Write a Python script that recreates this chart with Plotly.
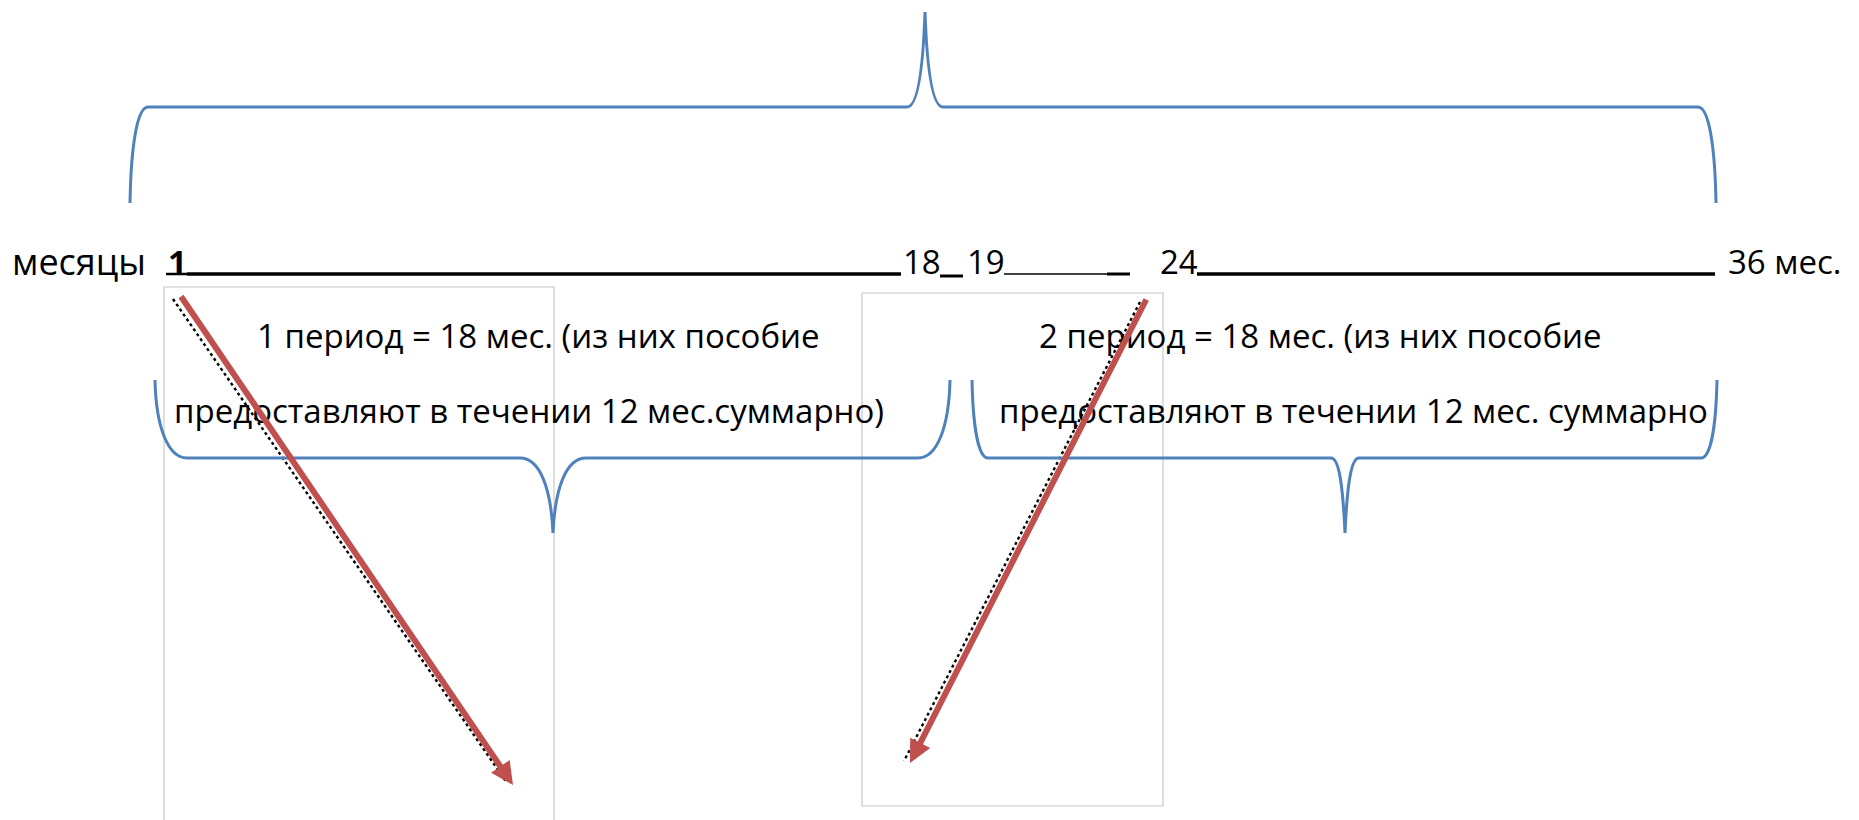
import plotly.graph_objects as go

W, H = 1859, 820
FONT = "Open Sans"
BLUE = "#4F81BD"
RED = "#C0504D"

# --- timeline labels (months) ---
month_labels = ["1", "18", "19", "24", "36 мес."]
month_label_x = [158, 893, 957, 1150, 1718]
month_bold = [True, False, False, False, False]
axis_title = "месяцы"
title_x = 2
timeline_y = 253

# underline segments of the month line
seg_x0 = [158, 179, 932, 996, 1099, 1189]
seg_x1 = [179, 893, 955, 1099, 1122, 1707]
seg_y = [266, 266, 268, 266, 266, 266]
seg_w = [2.5, 3.5, 3, 1.5, 3, 3.5]

# --- period texts ---
period_text = [
    "1 период = 18 мес. (из них пособие",
    "предоставляют в течении 12 мес.суммарно)",
    "2 период = 18 мес. (из них пособие",
    "предоставляют в течении 12 мес. суммарно",
]
period_x = [247, 164, 1029, 989]
period_y = [327, 402, 327, 402]

# --- braces: end x, tip x, end y, bar y, tip y, half-widths of tip, corner size ---
brace_x0 = [122, 147, 964]
brace_x1 = [1708, 942, 1709]
brace_tip = [917, 545, 1337]
brace_yend = [195, 372, 372]
brace_ybar = [99, 450, 450]
brace_ytip = [4, 525, 525]
brace_tiphalf = [18, 33, 14]
brace_corner = [18, 32, 16]

# --- boxes ---
box_x0 = [156, 854]
box_x1 = [546, 1155]
box_y0 = [279, 285]
box_y1 = [830, 798]

# --- arrows (tail -> head) ---
arrow_x0 = [172, 1139]
arrow_y0 = [287, 290]
arrow_x1 = [505, 902]
arrow_y1 = [777, 755]


def brace_path(x0, x1, xt, ye, yb, yt, th, c):
    s = 1 if yb > ye else -1  # direction from end to bar
    p = f"M {x0},{ye} C {x0+1},{ye + s*abs(yb-ye)*0.6} {x0+c*0.4},{yb} {x0+c},{yb} "
    p += f"L {xt-th},{yb} C {xt-th*0.4},{yb} {xt-2},{yb + (yt-yb)*0.4} {xt},{yt} "
    p += f"C {xt+2},{yb + (yt-yb)*0.4} {xt+th*0.4},{yb} {xt+th},{yb} "
    p += f"L {x1-c},{yb} C {x1-c*0.4},{yb} {x1-1},{ye + s*abs(yb-ye)*0.6} {x1},{ye}"
    return p


fig = go.Figure()

shapes = []
for i in range(len(box_x0)):
    shapes.append(dict(type="rect", xref="x", yref="y", x0=box_x0[i], x1=box_x1[i],
                       y0=box_y0[i], y1=box_y1[i], line=dict(color="#C8C8C8", width=1.2),
                       fillcolor="rgba(0,0,0,0)", layer="below"))
for i in range(len(brace_x0)):
    shapes.append(dict(type="path", xref="x", yref="y",
                       path=brace_path(brace_x0[i], brace_x1[i], brace_tip[i], brace_yend[i],
                                       brace_ybar[i], brace_ytip[i], brace_tiphalf[i], brace_corner[i]),
                       line=dict(color=BLUE, width=3)))
for i in range(len(seg_x0)):
    shapes.append(dict(type="line", xref="x", yref="y", x0=seg_x0[i], x1=seg_x1[i],
                       y0=seg_y[i], y1=seg_y[i], line=dict(color="black", width=seg_w[i])))

# dotted black shadow along arrows
for i in range(len(arrow_x0)):
    fig.add_trace(go.Scatter(x=[arrow_x0[i] - 7, arrow_x1[i] - 6], y=[arrow_y0[i] + 4, arrow_y1[i] - 2],
                             mode="lines", line=dict(color="black", width=2.4, dash="dot"),
                             hoverinfo="skip", showlegend=False))

annotations = []
annotations.append(dict(x=title_x, y=timeline_y, text=axis_title, showarrow=False, xanchor="left",
                        yanchor="middle", font=dict(family=FONT, size=36, color="black")))
for lab, x, b in zip(month_labels, month_label_x, month_bold):
    annotations.append(dict(x=x, y=timeline_y, text=f"<b>{lab}</b>" if b else lab, showarrow=False,
                            xanchor="left", yanchor="middle",
                            font=dict(family=FONT, size=33, color="black")))
for t, x, y in zip(period_text, period_x, period_y):
    annotations.append(dict(x=x, y=y, text=t, showarrow=False, xanchor="left", yanchor="middle",
                            font=dict(family=FONT, size=33, color="black")))
for i in range(len(arrow_x0)):
    annotations.append(dict(x=arrow_x1[i], y=arrow_y1[i], ax=arrow_x0[i], ay=arrow_y0[i],
                            xref="x", yref="y", axref="x", ayref="y", text="", showarrow=True,
                            arrowhead=2, arrowsize=0.75, arrowwidth=6, arrowcolor=RED, standoff=0))

fig.update_layout(
    width=W, height=H, margin=dict(l=0, r=0, t=0, b=0),
    paper_bgcolor="white", plot_bgcolor="white",
    xaxis=dict(range=[0, W], visible=False, fixedrange=True),
    yaxis=dict(range=[H, 0], visible=False, fixedrange=True),
    shapes=shapes, annotations=annotations, showlegend=False,
)
fig.write_html("out.html")
